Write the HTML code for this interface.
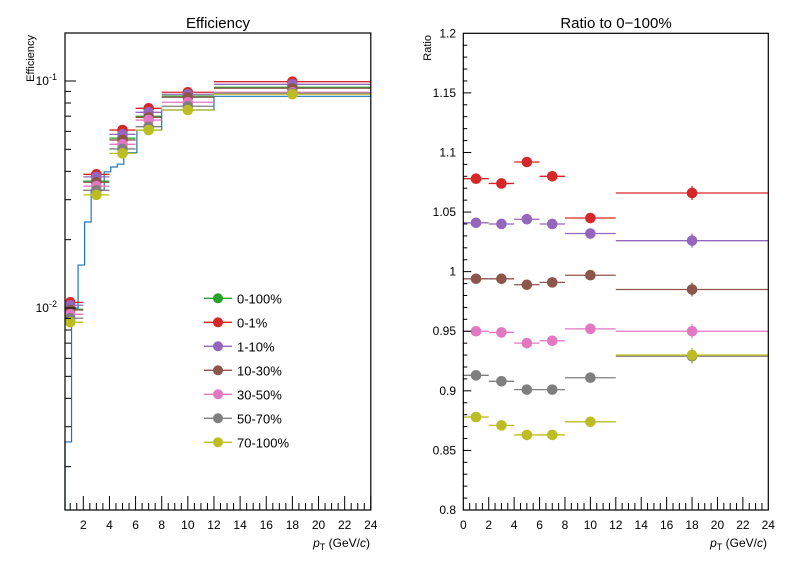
<!DOCTYPE html>
<html><head><meta charset="utf-8"><style>
html,body{margin:0;padding:0;background:#fff;}
svg{display:block;font-family:"Liberation Sans",sans-serif;}
</style></head><body>
<svg id="c" width="796" height="572" viewBox="0 0 796 572"></svg>
<script>
// ---- data ----
const seriesNames = ["0-100%","0-1%","1-10%","10-30%","30-50%","50-70%","70-100%"];
const seriesColors = ["#2ca02c","#d62728","#9467bd","#8c564b","#e377c2","#7f7f7f","#bcbd22"];
const binCenters = [1,3,5,7,10,18];
const binLow = [0,2,4,6,8,12];
const binHigh = [2,4,6,8,12,24];
const effAll = [0.00987,0.0362,0.0560,0.0699,0.0859,0.0938];
const eff01 = [0.01059,0.0388,0.0608,0.0758,0.0892,0.0993];
const eff110 = [0.01028,0.0378,0.0582,0.0728,0.0874,0.0967];
const eff1030 = [0.00980,0.0358,0.0550,0.0692,0.0848,0.0929];
const eff3050 = [0.00938,0.0344,0.0526,0.0673,0.0806,0.0892];
const eff5070 = [0.00901,0.0330,0.0502,0.0629,0.0774,0.0883];
const eff70100 = [0.00865,0.0315,0.0480,0.0608,0.0745,0.0874];
const ratio01 = [1.078,1.074,1.092,1.080,1.045,1.066];
const ratio110 = [1.041,1.040,1.044,1.040,1.032,1.026];
const ratio1030 = [0.994,0.994,0.989,0.991,0.997,0.985];
const ratio3050 = [0.950,0.949,0.940,0.942,0.952,0.950];
const ratio5070 = [0.913,0.908,0.901,0.901,0.911,0.929];
const ratio70100 = [0.878,0.871,0.863,0.863,0.874,0.930];
const histEdges = [0.6,1.1,1.6,2.1,2.6,3.6,4.1,4.6,5.1,6.1,8,12,24];
const histValues = [0.00257,0.0100,0.01546,0.02393,0.0331,0.0398,0.0418,0.0430,0.0483,0.0608,0.0745,0.0856];
const xTicksLeft = [2,4,6,8,10,12,14,16,18,20,22,24];
const xTicksRight = [0,2,4,6,8,10,12,14,16,18,20,22,24];
const yTicksRatio = [0.8,0.85,0.9,0.95,1,1.05,1.1,1.15,1.2];
const yTickLabelsRatio = ["0.8","0.85","0.9","0.95","1","1.05","1.1","1.15","1.2"];

// ---- axes ----
const L={x0:65,x1:370.8,y0:33,y1:510,xmin:0.6,xmax:24};
const R={x0:463.3,x1:768.3,y0:33.3,y1:510,xmin:0,xmax:24,ymin:0.8,ymax:1.2};
const lx=v=>L.x0+(v-L.xmin)/(L.xmax-L.xmin)*(L.x1-L.x0);
const ly=v=>81-(Math.log10(v)+1)*227;
const rx=v=>R.x0+(v-R.xmin)/(R.xmax-R.xmin)*(R.x1-R.x0);
const ry=v=>R.y1-(v-R.ymin)/(R.ymax-R.ymin)*(R.y1-R.y0);

const svg=document.getElementById('c');
const NS='http://www.w3.org/2000/svg';
function mk(tag,attrs,parent){const e=document.createElementNS(NS,tag);for(const k in attrs)e.setAttribute(k,attrs[k]);(parent||svg).appendChild(e);return e;}
function line(x1,y1,x2,y2,c,w,p){return mk('line',{x1,y1,x2,y2,stroke:c,'stroke-width':w||1},p);}
function text(x,y,s,size,anchor,p){const t=mk('text',{x,y,'font-size':size,'text-anchor':anchor||'start',fill:'#000'},p);t.textContent=s;return t;}

// ---- left panel ----
const gL=mk('g',{});


let t=text(218,28,"Efficiency",15,'middle',gL);



// histogram 0-100 fine binned
let d='';
for(let i=0;i<histValues.length;i++){
  const y=ly(histValues[i]);
  d+=(i===0?'M'+lx(histEdges[0])+','+L.y1+' L':' L')+lx(histEdges[i])+','+y+' L'+lx(histEdges[i+1])+','+y;
  if(i<histValues.length-1) d+=' L'+lx(histEdges[i+1])+','+ly(histValues[i+1]);
}
let hp=mk('path',{d:d,fill:'none',stroke:'#1f77b4','stroke-width':1.2},gL);



const effSeries=[effAll,eff01,eff110,eff1030,eff3050,eff5070,eff70100];
effSeries.forEach((arr,s)=>{
  const g=mk('g',{},gL);
  
  
  arr.forEach((v,i)=>{
    const y=ly(v);
    line(lx(Math.max(binLow[i],L.xmin)),y,lx(binHigh[i]),y,seriesColors[s],1.3,g);
    const c=mk('circle',{cx:lx(binCenters[i]),cy:y,r:5.3,fill:seriesColors[s]},g);
    
    
  });
});

// left frame & axes
mk('rect',{x:L.x0,y:L.y0,width:L.x1-L.x0,height:L.y1-L.y0,fill:'none',stroke:'#000','stroke-width':1.2},gL);
for(let v=1;v<=24;v+=0.5){
  if(v<L.xmin) continue;
  const major=(v%2===0);
  line(lx(v),L.y1,lx(v),L.y1-(major?14:7),'#000',1,gL);
}
xTicksLeft.forEach(v=>{text(lx(v),529,String(v),12,'middle',gL);});
[0.001,0.01,0.1].forEach(dec=>{
  for(let m=1;m<10;m++){
    const v=dec*m;const y=ly(v);
    if(y<L.y0||y>L.y1) continue;
    line(L.x0,y,L.x0+(m===1?11:6),y,'#000',1,gL);
  }
});
[[0.1,'-1'],[0.01,'-2']].forEach(([v,e])=>{
  const g=mk('text',{x:57,y:ly(v)+4,'font-size':12,'text-anchor':'end'},gL);
  g.innerHTML='10<tspan dy="-5" font-size="9">'+e+'</tspan>';
});
t=mk('text',{x:0,y:0,'font-size':11,'text-anchor':'end',transform:'translate(34,35) rotate(-90)'},gL);
t.textContent='Efficiency';


t=mk('text',{x:370,y:547,'font-size':12,'text-anchor':'end'},gL);
t.innerHTML='<tspan font-style="italic">p</tspan><tspan dy="3" font-size="9">T</tspan><tspan dy="-3"> (GeV/</tspan><tspan font-style="italic">c</tspan>)';



// legend
const gLeg=mk('g',{},gL);


seriesNames.forEach((n,s)=>{
  const y=298.3+s*24;
  const g=mk('g',{},gLeg);
  
  
  line(204,y,232,y,seriesColors[s],1.3,g);
  mk('circle',{cx:218,cy:y,r:5,fill:seriesColors[s]},g);
  text(237,y+5,n,13,'start',g);
});

// ---- right panel ----
const gR=mk('g',{});


t=text(616,28,"Ratio to 0\u2212100%",15,'middle',gR);


const ratioSeries=[ratio01,ratio110,ratio1030,ratio3050,ratio5070,ratio70100];
ratioSeries.forEach((arr,k)=>{
  const s=k+1;
  const g=mk('g',{},gR);
  
  
  arr.forEach((v,i)=>{
    const y=ry(v);
    line(rx(binLow[i]),y,rx(binHigh[i]),y,seriesColors[s],1.3,g);
    line(rx(binCenters[i]),y-(i===5?7:4),rx(binCenters[i]),y+(i===5?7:4),seriesColors[s],1.3,g);
    const c=mk('circle',{cx:rx(binCenters[i]),cy:y,r:5.3,fill:seriesColors[s]},g);
    
    
  });
});
mk('rect',{x:R.x0,y:R.y0,width:R.x1-R.x0,height:R.y1-R.y0,fill:'none',stroke:'#000','stroke-width':1.2},gR);
for(let v=0.5;v<24;v+=0.5){
  const major=(v%2===0);
  line(rx(v),R.y1,rx(v),R.y1-(major?13:7),'#000',1,gR);
}
xTicksRight.forEach(v=>{text(rx(v),529,String(v),12,'middle',gR);});
for(let i=1;i<40;i++){
  const v=0.8+i*0.01;const y=ry(v);
  line(R.x0,y,R.x0+(i%5===0?8:4),y,'#000',1,gR);
}
yTicksRatio.forEach((v,i)=>{text(456,ry(v)+4,yTickLabelsRatio[i],12,'end',gR);});
t=mk('text',{x:0,y:0,'font-size':11,'text-anchor':'end',transform:'translate(431,35) rotate(-90)'},gR);
t.textContent='Ratio';


t=mk('text',{x:767,y:547,'font-size':12,'text-anchor':'end'},gR);
t.innerHTML='<tspan font-style="italic">p</tspan><tspan dy="3" font-size="9">T</tspan><tspan dy="-3"> (GeV/</tspan><tspan font-style="italic">c</tspan>)';


</script>
</body></html>
